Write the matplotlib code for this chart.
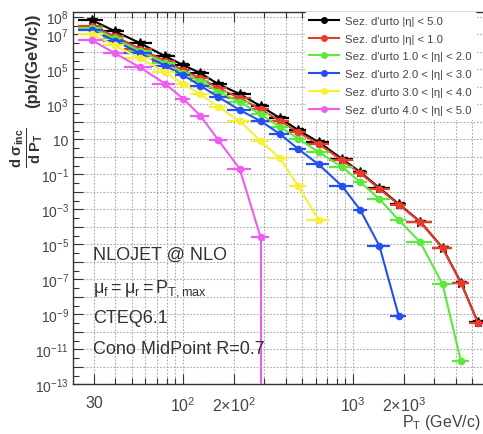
import numpy as np
import matplotlib
matplotlib.use('Agg')
import matplotlib.pyplot as plt
from matplotlib.ticker import FixedLocator, NullFormatter

plt.rcParams['font.family'] = ['Liberation Sans', 'DejaVu Sans']
plt.rcParams['mathtext.fontset'] = 'custom'
plt.rcParams['mathtext.rm'] = 'Liberation Sans'
plt.rcParams['mathtext.it'] = 'Liberation Sans:italic'
plt.rcParams['mathtext.bf'] = 'Liberation Sans:bold'

# bin edges in P_T (GeV/c)
edges = np.array([24, 34, 45, 66, 90, 110, 142, 180, 250, 320, 420, 530,
                  720, 1000, 1200, 1650, 2050, 2900, 3800, 4800, 6000])

# log10 of d sigma / d P_T (pb/(GeV/c)), one value per bin
tot  = [7.80, 7.17, 6.49, 5.74, 5.23, 4.77, 4.14, 3.57, 2.89, 2.20, 1.51, 0.83,
        -0.14, -0.89, -1.80, -2.71, -3.72, -5.21, -7.21, -9.48]
eta1 = [7.46, 6.88, 6.16, 5.47, 4.93, 4.47, 3.90, 3.35, 2.70, 2.04, 1.38, 0.72,
        -0.22, -0.95, -1.85, -2.75, -3.74, -5.23, -7.23, -9.50]
eta2 = [7.34, 6.76, 6.04, 5.35, 4.80, 4.30, 3.70, 3.12, 2.42, 1.70, 1.02, 0.26,
        -0.60, -1.46, -2.43, -3.63, -4.89, -7.30, -11.70]
eta3 = [7.23, 6.62, 5.92, 5.20, 4.65, 4.05, 3.40, 2.66, 2.03, 1.29, 0.43, -0.45,
        -1.69, -3.06, -5.11, -9.11]
eta4 = [7.00, 6.35, 5.62, 4.85, 4.14, 3.57, 2.83, 2.03, 0.89, -0.09, -1.69, -3.63]
eta5 = [6.66, 5.91, 5.11, 4.17, 3.30, 2.34, 0.94, -0.71, -4.60]

labels = ["Sez. d'urto |η| < 5.0",
          "Sez. d'urto |η| < 1.0",
          "Sez. d'urto 1.0 < |η| < 2.0",
          "Sez. d'urto 2.0 < |η| < 3.0",
          "Sez. d'urto 3.0 < |η| < 4.0",
          "Sez. d'urto 4.0 < |η| < 5.0"]
colors = ['black', '#ea3b2a', '#5ce83c', '#2450f0', '#f6f03a', '#ee5cf0']
series = [tot, eta1, eta2, eta3, eta4, eta5]

centers = (edges[:-1] + edges[1:]) / 2
half = (edges[1:] - edges[:-1]) / 2

fig = plt.figure(figsize=(4.83, 4.35), dpi=100)
ax = fig.add_axes([73 / 483, 50 / 435, 424 / 483, 372 / 435])

ymin, ymax = 1e-13, 10 ** 8.26
for i, (vals, col, lab) in enumerate(zip(series, colors, labels)):
    n = len(vals)
    x = centers[:n]
    y = 10.0 ** np.array(vals)
    z = 3 + i
    ax.plot(x, y, '-', color=col, lw=1.5, zorder=z)
    ax.errorbar(x, y, xerr=half[:n], fmt='none', ecolor=col, elinewidth=1.6,
                capsize=0, zorder=z)
    if col == 'black':
        ax.plot(x, y, '*', color=col, ms=7, zorder=z)
    else:
        ax.plot(x, y, 'o', color=col, ms=4.5, zorder=z)
    ax.plot([], [], '-o', color=col, lw=1.5, ms=4, label=lab)

# last 4<|eta|<5 point drops to zero
ax.vlines(centers[len(eta5) - 1], ymin, 10.0 ** eta5[-1], color=colors[5], lw=1.5, zorder=8)

ax.set_xscale('log')
ax.set_yscale('log')
ax.set_xlim(22.5, 7000)
ax.set_ylim(ymin, ymax)

# y ticks
ax.yaxis.set_major_locator(FixedLocator([10.0 ** k for k in range(-13, 9)]))
ylab_exps = list(range(-13, 8, 2)) + [8]
ylabels = []
for k in range(-13, 9):
    if k in ylab_exps:
        ylabels.append('10' if k == 1 else r'$\mathregular{10^{%d}}$' % k)
    else:
        ylabels.append('')
ax.set_yticklabels(ylabels)
ax.yaxis.set_minor_locator(FixedLocator([m * 10.0 ** k for k in range(-13, 9) for m in (3,)]))
ax.yaxis.set_minor_formatter(NullFormatter())

# x ticks
xt = [30, 100, 200, 1000, 2000]
xl = ['30', r'$\mathregular{10^2}$', r'$\mathregular{2{\times}10^2}$',
      r'$\mathregular{10^3}$', r'$\mathregular{2{\times}10^3}$']
ax.xaxis.set_major_locator(FixedLocator(xt))
ax.set_xticklabels(xl)
ax.xaxis.set_minor_locator(FixedLocator([m * 10.0 ** k for k in range(1, 4)
                                          for m in range(2, 10)]))
ax.xaxis.set_minor_formatter(NullFormatter())

ax.tick_params(which='both', direction='in', top=True, right=True, colors='#333333')
ax.tick_params(which='major', length=7, width=0.8)
ax.tick_params(which='minor', length=4, width=0.8)
ax.tick_params(axis='y', labelsize=10, labelcolor='#444444', pad=3)
ax.tick_params(axis='x', labelsize=11.5, labelcolor='#444444', pad=8)

# grid at every decade (y) and every minor step (x)
for k in range(-13, 9):
    ax.axhline(10.0 ** k, color='#aaaaaa', ls=(0, (1.5, 1.5)), lw=0.8, zorder=1)
for k in range(1, 4):
    for m in range(1, 10):
        xv = m * 10.0 ** k
        if 22.5 < xv < 7000:
            ax.axvline(xv, color='#aaaaaa', ls=(0, (1.5, 1.5)), lw=0.8, zorder=1)

for s in ax.spines.values():
    s.set_color('#333333')
    s.set_linewidth(1.0)

leg = ax.legend(loc='upper left', bbox_to_anchor=(232 / 424, 1.0), frameon=True,
                fontsize=8.2, handlelength=2.6, handletextpad=0.6,
                labelspacing=0.68, borderpad=0.35, borderaxespad=0.0)
leg.set_zorder(10)
leg.get_frame().set_facecolor('white')
leg.get_frame().set_edgecolor('white')
leg.get_frame().set_alpha(1.0)
for t in leg.get_texts():
    t.set_color('#444444')

tc = '#333333'
fig.text(93 / 483, 1 - 255 / 435, 'NLOJET @ NLO', fontsize=13, color=tc, va='center')
fig.text(93 / 483, 1 - 289 / 435, r'$\mathregular{\mu_f = \mu_r = P_{T,max}}$',
         fontsize=13, color=tc, va='center')
fig.text(93 / 483, 1 - 319 / 435, 'CTEQ6.1', fontsize=13, color=tc, va='center')
fig.text(93 / 483, 1 - 350 / 435, 'Cono MidPoint R=0.7', fontsize=13, color=tc, va='center')

fig.text(481 / 483, 1 - 423 / 435, r'$\mathregular{P_T}$ (GeV/c)', fontsize=11.5,
         color='#444444', va='center', ha='right')

# y axis title: units on top, fraction below
fig.text(33 / 483, 1 - 13 / 435, '(pb/(GeV/c))',
         rotation=90, fontsize=12, fontweight='bold', color='#333333',
         va='top', ha='center')
fig.text(27 / 483, 1 - 148 / 435, r'$\mathbf{\frac{d\ \sigma_{inc}}{d\ P_T}}$',
         rotation=90, fontsize=15, color='#333333', va='center', ha='center')

fig.savefig('out.png', dpi=100)
